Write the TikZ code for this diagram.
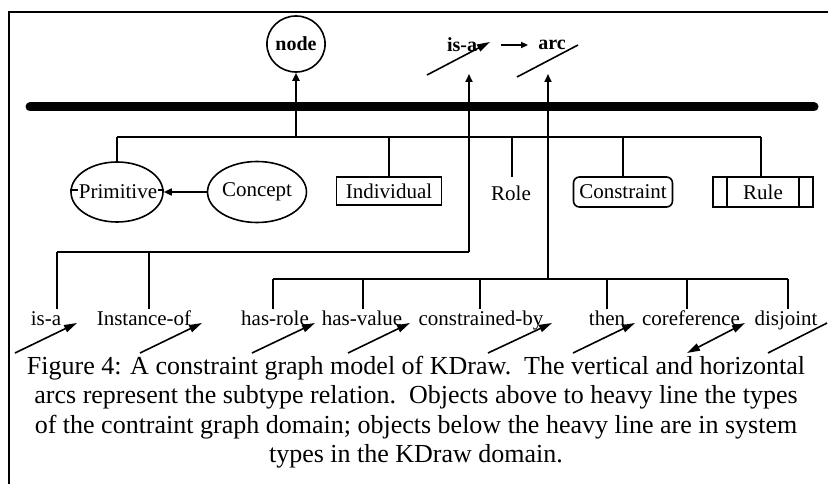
\documentclass[tikz,border=0pt]{standalone}
\usepackage{fontspec}
\setmainfont{Liberation Serif}
\usetikzlibrary{arrows.meta,shapes.geometric}
\begin{document}
\begin{tikzpicture}[x=1pt,y=-1pt,
  frame/.style={line width=1.6pt},
  treeline/.style={line width=1.8pt},
  heavy/.style={line width=9pt,line cap=round},
  uparrow/.style={line width=1.8pt,-{Triangle[length=8pt,width=7pt]}},
  icon/.style={line width=1.6pt,-{Triangle[length=13pt,width=7.5pt]}},
  iconboth/.style={line width=1.6pt,{Triangle[length=13pt,width=7.5pt]}-{Triangle[length=13pt,width=7.5pt]}},
  iconplain/.style={line width=1.6pt},
  txt/.style={font=\fontsize{21}{24}\selectfont,inner sep=0pt},
  boldtxt/.style={font=\fontsize{20}{23}\selectfont\bfseries,inner sep=0pt},
  captxt/.style={font=\fontsize{26}{30}\selectfont,inner sep=0pt,anchor=base},
  ell/.style={draw,ellipse,line width=1.6pt,inner sep=0pt},
  boxed/.style={draw,rectangle,line width=1.6pt,inner sep=0pt,font=\fontsize{21}{24}\selectfont},
  lab/.style={font=\fontsize{21}{24}\selectfont,inner sep=0pt,anchor=base}]
\useasboundingbox (0,0) rectangle (828,484);
\fill[white] (0,0) rectangle (828,484);

% frame
\coordinate (fTL) at (9,12);
\coordinate (fTR) at (828,12);
\coordinate (fBL) at (9,484);
\draw[frame] (fTR) -- (fTL) -- (fBL);

% heavy dividing line
\coordinate (hL) at (30,107);
\coordinate (hR) at (814,107);
\draw[heavy] (hL) -- (hR);

% types above the heavy line
\node[ell,boldtxt,minimum width=54pt,minimum height=56pt] (nodeN) at (296,44) {node};
\node[boldtxt] (isaTop) at (462,45) {is-a};
\node[boldtxt] (arcTop) at (552,45) {arc};
\draw[line width=1.6pt,-{Triangle[length=7pt,width=6pt]},shorten <=24pt,shorten >=10pt] (isaTop.east) -- (arcTop.west);
\coordinate (isaIconA) at (427,75);
\coordinate (isaIconB) at (490,42);
\coordinate (arcIconA) at (517,77);
\coordinate (arcIconB) at (578,45);
\draw[icon] (isaIconA) -- (isaIconB);
\draw[iconplain] (arcIconA) -- (arcIconB);

% upper tree
\coordinate (uL) at (117,137);
\coordinate (uR) at (761,137);
\coordinate (uN) at (296,137);
\coordinate (uI) at (389,137);
\coordinate (uRo) at (512,137);
\coordinate (uRoEnd) at (512,177);
\coordinate (uC) at (623,137);
\draw[treeline] (uL) -- (uR);

\node[ell,minimum width=92pt,minimum height=60pt] (prim) at (117,192) {};
\draw[line width=1.4pt] ([yshift=2pt]prim.west) -- ([yshift=2pt]prim.east);
\node[txt,fill=white,inner xsep=0.5pt] (primText) at (118,192) {Primitive};
\node[ell,txt,minimum width=90pt,minimum height=61pt] (concept) at (257,192) {Concept};
\node[boxed,minimum width=105pt,minimum height=28pt] (indiv) at (389,191) {Individual};
\node[txt] (role) at (511,193) {Role};
\node[boxed,rounded corners=6pt,minimum width=99pt,minimum height=30pt] (constr) at (623,192) {Constraint};
\node[boxed,minimum width=100pt,minimum height=30pt] (rule) at (763,192) {Rule};
\draw[line width=1.6pt] ([xshift=15pt]rule.north west) -- ([xshift=15pt]rule.south west);
\draw[line width=1.6pt] ([xshift=-15pt]rule.north east) -- ([xshift=-15pt]rule.south east);

\draw[treeline] (uL) -- (uL |- prim.north);
\draw[uparrow] (uN) -- (nodeN.south);
\draw[treeline] (uI) -- (indiv.north);
\draw[treeline] (uRo) -- (uRoEnd);
\draw[treeline] (uC) -- (constr.north);
\draw[treeline] (uR) -- (uR |- rule.north);
\draw[line width=1.6pt,-{Triangle[length=8pt,width=7pt]}] (concept.west) -- (prim.east);

% lower trees: system types
\coordinate (b1L) at (57,252);
\coordinate (b1R) at (469,252);
\coordinate (isaTip) at (469,74);
\draw[treeline] (b1L) -- (b1R);
\draw[uparrow] (b1R) -- (isaTip);

\coordinate (b2L) at (273,279);
\coordinate (b2R) at (788,279);
\coordinate (b2A) at (548,279);
\coordinate (arcTip) at (548,74);
\draw[treeline] (b2L) -- (b2R);
\draw[uparrow] (b2A) -- (arcTip);

\foreach \x/\y [count=\i] in {57/252,149/252,273/279,363/279,480/279,607/279,687/279,788/279}{
  \coordinate (vt\i) at (\x,\y);
  \coordinate (vb\i) at (\x,309);
  \draw[treeline] (vt\i) -- (vb\i);
}

\node[lab] (lIsa) at (46,325) {is-a};
\node[lab] (lInst) at (144,325) {Instance-of};
\node[lab] (lRole) at (275,325) {has-role};
\node[lab] (lVal) at (362,325) {has-value};
\node[lab] (lCon) at (481,325) {constrained-by};
\node[lab] (lThen) at (607,325) {then};
\node[lab] (lCoref) at (691,325) {coreference};
\node[lab] (lDis) at (786,325) {disjoint};

% arc icons
\foreach \a/\b/\c/\d [count=\i] in {15/353/77/323,140/353/202/323,252/353/315/323,348/353/410/323,488/353/552/323,573/353/635/323}{
  \coordinate (ia\i) at (\a,\b);
  \coordinate (ib\i) at (\c,\d);
  \draw[icon] (ia\i) -- (ib\i);
}
\coordinate (corefA) at (687,353);
\coordinate (corefB) at (745,323);
\draw[iconboth] (corefA) -- (corefB);
\coordinate (disA) at (768,353);
\coordinate (disB) at (827,323);
\draw[iconplain] (disA) -- (disB);

% caption
\node[captxt] (cap1) at (416,374) {Figure 4: A constraint graph model of KDraw.\ \ The vertical and horizontal};
\node[captxt] (cap2) at (416,403) {arcs represent the subtype relation.\ \ Objects above to heavy line the types};
\node[captxt] (cap3) at (416,433) {of the contraint graph domain; objects below the heavy line are in system};
\node[captxt] (cap4) at (416,462) {types in the KDraw domain.};
\end{tikzpicture}
\end{document}
